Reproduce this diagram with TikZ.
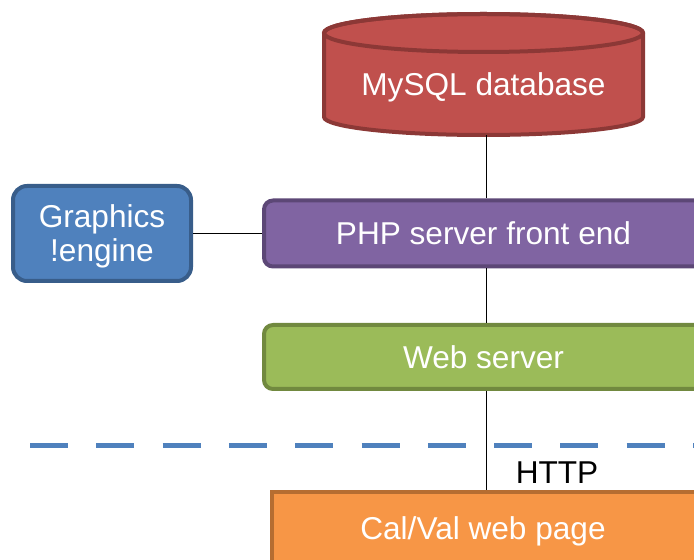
\documentclass[tikz,border=0pt]{standalone}
\usepackage{fontspec}
\setmainfont{Liberation Sans}
\definecolor{dbfill}{HTML}{C0504D}
\definecolor{dbline}{HTML}{8C3836}
\definecolor{phpfill}{HTML}{8064A2}
\definecolor{phpline}{HTML}{5C4776}
\definecolor{gfxfill}{HTML}{4F81BD}
\definecolor{gfxline}{HTML}{385D8A}
\definecolor{webfill}{HTML}{9BBB59}
\definecolor{webline}{HTML}{71893F}
\definecolor{calfill}{HTML}{F79646}
\definecolor{calline}{HTML}{B66D31}
\tikzset{
  lbl/.style={font=\fontsize{31.6}{34}\selectfont, text=white, align=center, inner sep=0pt},
  box/.style={rectangle, rounded corners=9pt, line width=4pt, inner sep=0pt},
  conn/.style={draw=black, line width=1pt},
}
\begin{document}
\begin{tikzpicture}[x=1pt,y=1pt]
\useasboundingbox (0,0) rectangle (694,560);
\clip (0,0) rectangle (694,560);
% database cylinder
\filldraw[fill=dbfill, draw=dbline, line width=4pt]
  (324,527) -- (324,443) arc[start angle=180, end angle=360, x radius=159.5, y radius=18]
  -- (643,527) arc[start angle=0, end angle=180, x radius=159.5, y radius=19] -- cycle;
\draw[dbline, line width=4pt] (483.5,527) ellipse[x radius=159.5, y radius=19];
\node[minimum width=319pt, minimum height=121pt, inner sep=0pt] (db) at (483.5,485.5) {};
\node[lbl] (dbl) at (483.5,472.5) {MySQL database};
% boxes
\node[box, fill=phpfill, draw=phpline, minimum width=439pt, minimum height=66pt, lbl] (php) at (483.5,326.5) {PHP server front end};
\node[box, rounded corners=14pt, fill=gfxfill, draw=gfxline, minimum width=178pt, minimum height=95pt] (gfx) at (102,326.5) {};
\node[lbl] (gfxl) at (102,323.5) {Graphics\\!engine};
\node[box, fill=webfill, draw=webline, minimum width=439pt, minimum height=64pt, lbl] (web) at (483.5,203) {Web server};
\node[box, rounded corners=0pt, fill=calfill, draw=calline, minimum width=425pt, minimum height=90pt] (cal) at (484,23) {};
\node[lbl] (call) at (483,28.5) {Cal/Val web page};
% dashed separator
\coordinate (dashL) at (30,114);
\coordinate (dashR) at (720,114);
\draw[gfxfill, line width=5pt, dash pattern=on 38pt off 28.3pt] (dashL) -- (dashR);
% connectors
\coordinate (spine) at (486,0);
\draw[conn] (db.south -| spine) -- (php.north -| spine);
\draw[conn] (php.south -| spine) -- (web.north -| spine);
\draw[conn] (web.south -| spine) -- (cal.north -| spine);
\draw[conn] (gfx.east) -- (php.west);
\node[font=\fontsize{31.6}{34}\selectfont, text=black, inner sep=0pt] (http) at (557,87) {HTTP};
\end{tikzpicture}
\end{document}
